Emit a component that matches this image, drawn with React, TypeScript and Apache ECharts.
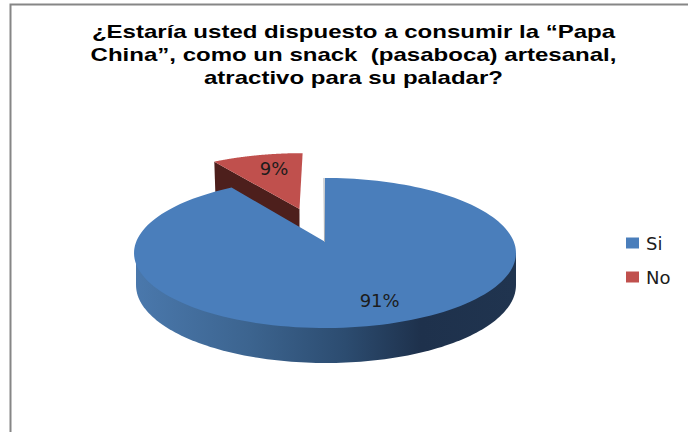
import React, { useEffect, useRef } from "react";
import * as echarts from "echarts";

const categories = ["Si", "No"];
const shares = [90.6, 9.4];
const colors = ["#4a7ebb", "#c0504d"];
const titleLines = [
  "¿Estaría usted dispuesto a consumir la “Papa",
  "China”, como un snack  (pasaboca) artesanal,",
  "atractivo para su paladar?",
];

// Perspective projection of the pie's unit disc on the page
const CX = 325;
const APEX_Y = 241.7;
const RADIUS_X = 188.8;
const FAR_K = 36.9;
const PERSP = 0.1507;
const EXPLODE = 0.498;
// Bottom rim of the pie
const RIM_CX = 326;
const RIM_CY = 285;
const RIM_RX = 190;
const RIM_RY = 78;
const RIM_TOP = 253;

const rad = (d: number) => (d * Math.PI) / 180;
const project = (X: number, Y: number): number[] => {
  const w = 1 + PERSP * Y;
  return [CX + (X * RADIUS_X) / w, (APEX_Y - FAR_K * Y) / w];
};
const sweep = (i: number) => (shares[i] / shares.reduce((a, b) => a + b, 0)) * 360;

function arcPoints(from: number, to: number, ox: number, oy: number) {
  const pts: number[][] = [];
  const n = 160;
  for (let k = 0; k <= n; k++) {
    const t = rad(from + ((to - from) * k) / n);
    pts.push(project(Math.sin(t) + ox, Math.cos(t) + oy));
  }
  return pts;
}

const labelText = (i: number) => `${Math.round(shares[i])}%`;
const labelStyle = (i: number, p: number[]) => ({
  type: "text",
  z2: 10,
  style: {
    x: p[0],
    y: p[1],
    text: labelText(i),
    fill: "#1c1c1c",
    font: '18px "DejaVu Sans"',
    align: "center",
    verticalAlign: "middle",
  },
});

const renderSi = () => {
  const end = sweep(0);
  const apex = project(0, 0);
  const rim: number[][] = [[RIM_CX + RIM_RX, RIM_TOP]];
  for (let k = 0; k <= 120; k++) {
    const t = rad(90 + (180 * k) / 120);
    rim.push([RIM_CX + RIM_RX * Math.sin(t), RIM_CY - RIM_RY * Math.cos(t)]);
  }
  rim.push([RIM_CX - RIM_RX, RIM_TOP]);
  const side = new echarts.graphic.LinearGradient(0, 0, 1, 0, [
    { offset: 0, color: "#4a78ac" },
    { offset: 0.3, color: "#3c648f" },
    { offset: 0.55, color: "#2c4c70" },
    { offset: 0.75, color: "#1e314c" },
    { offset: 1, color: "#20344f" },
  ]);
  const t = rad(160);
  return {
    type: "group",
    children: [
      { type: "polygon", shape: { points: rim }, style: { fill: side } },
      {
        type: "polygon",
        shape: { points: [apex, ...arcPoints(0, end, 0, 0)] },
        style: { fill: colors[0] },
      },
      {
        type: "line",
        shape: { x1: apex[0] - 0.5, y1: apex[1], x2: apex[0] - 1, y2: project(0, 1)[1] },
        style: { stroke: "#a3a9b0", lineWidth: 1 },
      },
      labelStyle(0, project(0.756 * Math.sin(t), 0.756 * Math.cos(t))),
    ],
  };
};

const renderNo = () => {
  const start = sweep(0);
  const mid = rad(start + sweep(1) / 2);
  const ox = EXPLODE * Math.sin(mid);
  const oy = EXPLODE * Math.cos(mid);
  const apex = project(ox, oy);
  const tip = project(Math.sin(rad(start)) + ox, Math.cos(rad(start)) + oy);
  const drop = 30;
  const t = rad(346);
  return {
    type: "group",
    children: [
      {
        type: "polygon",
        shape: {
          points: [tip, apex, [apex[0], apex[1] + drop], [tip[0] + 1, tip[1] + drop]],
        },
        style: { fill: "#4d1f1c" },
      },
      {
        type: "polygon",
        shape: { points: [apex, ...arcPoints(start, 360, ox, oy)] },
        style: { fill: colors[1] },
      },
      labelStyle(1, project(0.715 * Math.sin(t) + ox, 0.715 * Math.cos(t) + oy)),
    ],
  };
};

export default function App() {
  const ref = useRef<HTMLDivElement>(null);
  useEffect(() => {
    document.body.style.margin = "0";
    document.body.style.background = "#fff";
    const chart = echarts.init(ref.current!, null, { renderer: "svg" });
    chart.setOption({
      animation: false,
      backgroundColor: "#fff",
      legend: {
        data: categories,
        orient: "vertical",
        left: 621,
        top: 229,
        icon: "rect",
        itemWidth: 13,
        itemHeight: 11,
        itemGap: 16,
        textStyle: {
          fontFamily: "DejaVu Sans",
          fontSize: 18,
          color: "#1c1c1c",
          padding: [0, 0, 0, 2],
        },
        selectedMode: false,
      },
      graphic: [
        {
          type: "polyline",
          shape: { points: [[10.5, 432], [10.5, 4.5], [688, 4.5]] },
          style: { stroke: "#868686", lineWidth: 2, fill: "none" },
          silent: true,
        },
        ...titleLines.map((line, i) => ({
          type: "text",
          x: 353.5,
          y: 32 + i * 22.7,
          scaleX: 1.335,
          silent: true,
          style: {
            text: line,
            x: 0,
            y: 0,
            fill: "#000",
            font: 'bold 18px "Liberation Sans"',
            align: "center",
            verticalAlign: "middle",
          },
        })),
      ],
      series: [
        {
          type: "custom",
          name: categories[1],
          coordinateSystem: "none",
          z: 2,
          itemStyle: { color: colors[1] },
          data: [shares[1]],
          renderItem: renderNo,
        },
        {
          type: "custom",
          name: categories[0],
          coordinateSystem: "none",
          z: 3,
          itemStyle: { color: colors[0] },
          data: [shares[0]],
          renderItem: renderSi,
        },
      ],
    });
    return () => chart.dispose();
  }, []);
  return <div ref={ref} style={{ width: 688, height: 432 }} />;
}
